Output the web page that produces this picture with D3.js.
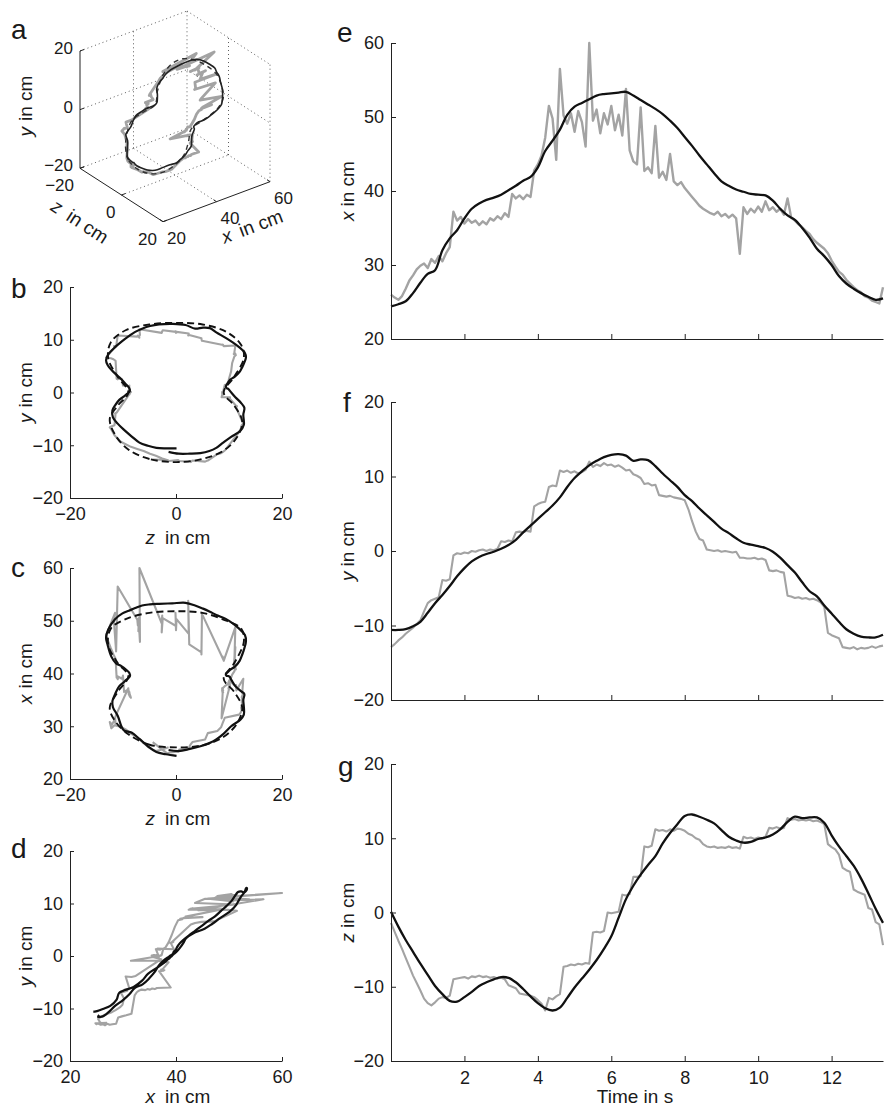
<!DOCTYPE html>
<html><head><meta charset="utf-8">
<script src="https://cdn.jsdelivr.net/npm/d3@7"></script>
<style>
body{margin:0;background:#fff}
svg{display:block}
text{font-family:"Liberation Sans",Arial,Helvetica,sans-serif;fill:#1a1a1a}
</style>
</head><body>
<svg id="fig" width="896" height="1109"></svg>
<script>
// ---------------- DATA ----------------
const T_END = 13.4;                       // duration of the recording, s
// estimated (black) trajectory, sampled every 0.2 s
const blackX = [24.4,24.7,25.1,26.2,27.6,28.8,29.3,32.0,33.6,34.7,36.3,37.6,38.3,38.8,39.1,39.5,40.1,40.7,41.4,41.9,43.2,45.4,46.8,48.3,50.3,51.4,51.9,52.4,52.9,53.1,53.2,53.3,53.4,52.9,52.3,51.7,51.1,50.4,49.5,48.5,47.3,46.1,44.8,43.6,42.4,41.3,40.7,40.2,39.9,39.6,39.5,39.4,38.7,37.6,36.7,36.1,35.0,33.7,32.2,31.2,30.0,28.5,27.5,26.8,26.2,25.7,25.3,25.5];
const blackY = [-10.6,-10.6,-10.5,-10.1,-9.5,-8.3,-7.0,-5.9,-4.7,-3.4,-2.3,-1.4,-0.8,-0.4,-0.1,0.3,0.8,1.5,2.5,3.4,4.3,5.2,6.1,7.2,8.6,9.8,10.7,11.5,12.1,12.6,12.9,13.0,12.8,12.1,12.3,12.2,11.4,10.4,9.5,8.6,7.5,6.7,5.7,4.8,3.9,3.0,2.4,1.7,1.1,0.85,0.65,0.4,-0.1,-0.9,-1.9,-2.9,-4.2,-5.4,-6.1,-7.3,-8.4,-9.5,-10.5,-11.1,-11.5,-11.6,-11.6,-11.25];
const blackZ = [0.1,-1.9,-3.7,-5.3,-6.9,-8.4,-9.9,-11.0,-11.9,-12.0,-11.4,-10.7,-9.9,-9.4,-9.0,-8.7,-8.8,-9.4,-10.3,-11.3,-12.2,-12.9,-13.2,-12.8,-11.5,-10.1,-8.9,-7.7,-6.4,-4.9,-3.2,-0.7,1.8,3.6,5.1,6.4,7.6,9.3,10.7,11.9,13.0,13.2,12.9,12.5,12.0,11.1,10.2,9.7,9.4,9.5,9.9,10.1,10.5,11.2,12.2,12.9,12.7,12.8,12.8,12.1,10.4,8.9,7.6,6.3,4.6,2.6,0.5,-1.4];
// measured (gray) trajectory, sampled every 0.1 s
const grayX = [26.0,25.6,25.3,25.8,26.8,27.9,28.6,29.4,29.9,30.2,
  29.6,30.8,30.3,31.2,30.5,31.6,32.4,37.2,36.0,36.5,
  35.6,36.2,35.7,36.0,35.4,35.9,35.5,36.3,36.0,36.6,
  36.2,37.0,36.5,39.6,39.0,39.4,38.9,39.5,39.2,42.8,
  43.6,44.8,47.2,51.5,49.8,44.2,56.5,50.2,49.1,50.5,
  48.0,50.8,49.3,46.0,60.0,49.5,51.0,47.8,50.5,49.0,
  51.5,48.2,50.3,47.5,53.8,45.5,44.0,43.6,51.3,42.7,
  43.2,42.4,48.8,41.8,42.6,41.5,45.0,41.3,40.8,41.2,
  40.4,39.8,39.2,38.6,38.0,37.6,37.3,37.0,36.8,37.2,
  36.6,36.9,36.4,36.8,36.3,31.5,37.8,36.9,37.6,37.1,
  37.9,37.2,38.6,37.4,37.8,37.2,37.6,36.8,39.0,36.4,
  36.0,35.5,35.1,34.6,34.2,33.5,33.0,32.6,32.2,31.6,
  30.6,29.8,29.1,28.7,28.0,27.5,27.0,26.6,26.3,25.8,
  25.6,25.2,25.0,24.8,27.0];
const grayY = [-12.9,-12.5,-12.0,-11.6,-11.1,-10.7,-10.3,-9.8,-9.3,-8.1,
  -7.0,-6.6,-6.4,-6.2,-3.9,-4.0,-3.8,-0.6,-0.3,-0.4,
  -0.2,-0.3,0.0,-0.1,0.1,0.2,0.0,0.2,0.1,0.3,
  1.3,1.2,1.4,1.3,2.5,2.6,2.5,2.7,2.6,6.0,
  6.3,6.5,6.6,8.6,8.8,8.7,10.8,10.6,10.8,10.5,
  10.7,10.4,10.6,10.9,12.0,11.3,11.6,11.4,11.8,11.5,
  11.6,11.3,11.5,11.2,10.8,10.9,10.3,10.1,9.8,9.0,
  9.1,8.8,8.9,7.5,7.4,7.3,7.4,7.2,7.1,7.0,
  6.8,5.6,4.0,2.6,1.6,1.4,0.2,0.1,0.0,0.1,
  -0.1,0.0,-0.1,-0.2,-0.1,-0.9,-0.9,-1.0,-1.0,-0.9,
  -1.1,-1.0,-1.2,-2.6,-2.7,-2.6,-2.8,-2.9,-6.0,-6.1,
  -6.3,-6.2,-6.4,-6.3,-6.5,-6.4,-6.6,-6.9,-7.5,-11.0,
  -11.3,-11.5,-11.7,-12.9,-13.0,-13.1,-12.9,-13.2,-13.0,-13.1,
  -13.0,-12.8,-13.0,-12.8,-12.7];
const grayZ = [-1.4,-2.6,-3.8,-4.9,-6.1,-7.3,-8.5,-9.5,-10.5,-11.6,
  -12.2,-12.5,-12.1,-11.6,-11.4,-11.5,-11.2,-9.0,-8.9,-8.8,
  -8.7,-8.9,-8.6,-8.7,-8.5,-8.7,-8.6,-8.8,-8.7,-8.9,
  -8.8,-9.0,-9.8,-10.0,-10.2,-10.9,-11.0,-11.1,-11.2,-11.4,
  -11.8,-12.3,-13.2,-11.5,-11.7,-11.3,-11.0,-7.3,-7.2,-7.0,
  -7.1,-6.9,-7.0,-6.8,-6.9,-2.7,-2.6,-2.7,-2.5,0.0,
  -0.1,0.0,0.1,2.4,2.3,2.5,4.8,4.8,4.9,8.9,
  8.8,9.0,11.2,11.0,11.1,10.9,11.2,11.0,11.3,11.2,
  11.0,10.6,10.4,10.0,9.8,9.2,8.9,8.8,8.9,8.7,
  8.8,8.7,8.9,8.7,8.8,8.6,10.2,10.0,10.1,9.9,
  10.1,10.0,10.2,11.4,11.3,11.5,11.3,11.4,12.7,12.5,
  12.6,12.4,12.5,12.4,12.5,12.3,12.4,12.2,11.9,9.2,
  8.8,8.5,7.8,6.0,5.7,5.5,3.1,2.8,2.6,2.4,
  0.6,0.4,-1.3,-1.6,-4.4];
// reference (dashed) closed path
const refX = [26.0,26.5,28.5,31.0,33.5,36.5,39.5,42.0,45.5,48.5,50.3,51.5,51.8,51.5,50.0,48.5,46.0,42.0,39.0,36.5,33.5,30.5,28.0,26.4];
const refY = [-13.2,-12.6,-10.8,-8.0,-5.0,-2.5,0.0,3.0,6.5,9.5,11.8,12.9,13.2,12.9,11.5,9.0,6.5,3.0,0.0,-2.5,-5.5,-8.5,-11.0,-12.6];
const refZ = [0,-5,-9,-11.5,-12.5,-11,-9,-11,-12.8,-12.3,-9.5,-5,0,5,9.5,12.3,12.8,11,9,11,12.5,11.5,9,5];
// tick labels
const timeTicks = [2,4,6,8,10,12];
const cmTicks = [-20,-10,0,10,20];
const xcmTicks = [20,30,40,50,60];
const sideTicks = [-20,0,20];
const xSideTicks = [20,40,60];

// ---------------- BUILD ----------------
function rec(xs,ys,zs){const n=xs.length;return xs.map((v,i)=>({t:i*T_END/(n-1),x:v,y:ys[i],z:zs[i]}));}
const black = rec(blackX,blackY,blackZ);
const gray = rec(grayX,grayY,grayZ);
const ref = refX.map((v,i)=>({x:v,y:refY[i],z:refZ[i]}));

const svg = d3.select('#fig');
const AX = '#222', GRAY = '#a3a3a3', BLK = '#111';
const FT = 18, FT3 = 17, FL = 19, FP = 28;
const minus = v => String(v).replace('-','\u2212');

function styleAxis(g){
  g.select('.domain').attr('stroke',AX).attr('stroke-width',1);
  g.selectAll('.tick line').attr('stroke',AX).attr('stroke-width',1);
  g.selectAll('.tick text').attr('font-size',FT).attr('font-family','"Liberation Sans",Arial,sans-serif').attr('fill','#1a1a1a');
}
function letter(ch,x,y){svg.append('text').attr('x',x).attr('y',y).attr('font-size',FP).text(ch);}
function axLabel(x,y,rot,v,gap){
  const t = svg.append('text').attr('transform',`translate(${x},${y}) rotate(${rot})`)
    .attr('text-anchor','middle').attr('dominant-baseline','central').attr('font-size',FL);
  t.append('tspan').attr('font-style','italic').text(v);
  t.append('tspan').attr('dx',gap).text('in cm');
}
function drawLines(g, xs, ys, fx, fy, opts){
  const gl = d3.line().x(d=>xs(fx(d))).y(d=>ys(fy(d)));
  const bl = d3.line().x(d=>xs(fx(d))).y(d=>ys(fy(d))).curve(d3.curveCatmullRom.alpha(0.5));
  g.append('path').datum(gray).attr('d',gl).attr('fill','none').attr('stroke',GRAY).attr('stroke-width',2.1).attr('stroke-linejoin','round');
  if(opts && opts.ref){
    const rl = d3.line().x(d=>xs(fx(d))).y(d=>ys(fy(d))).curve(d3.curveCatmullRomClosed.alpha(0.5));
    g.append('path').datum(ref).attr('d',rl).attr('fill','none').attr('stroke',BLK).attr('stroke-width',1.9).attr('stroke-dasharray','7,4');
  }
  g.append('path').datum(black).attr('d',bl).attr('fill','none').attr('stroke',BLK).attr('stroke-width',2.2).attr('stroke-linejoin','round');
}

// ---------- left 2D panels ----------
const L = {x0:70, x1:282};
function leftPanel(cfg){
  const xs = d3.scaleLinear().domain(cfg.xd).range([L.x0,L.x1]);
  const ys = d3.scaleLinear().domain(cfg.yd).range([cfg.yb,cfg.yt]);
  const g = svg.append('g');
  drawLines(g, xs, ys, cfg.fx, cfg.fy, {ref:cfg.ref});
  const ga = svg.append('g').attr('transform',`translate(0,${cfg.yb})`)
    .call(d3.axisBottom(xs).tickValues(cfg.xt).tickSizeInner(-4).tickSizeOuter(0).tickPadding(9));
  styleAxis(ga);
  const gy = svg.append('g').attr('transform',`translate(${L.x0},0)`)
    .call(d3.axisLeft(ys).tickValues(cfg.yt2).tickSizeInner(-4).tickSizeOuter(0).tickPadding(7));
  styleAxis(gy);
  axLabel((L.x0+L.x1)/2+2, cfg.yb+cfg.lo, 0, cfg.xl, 10);
  axLabel(25, (cfg.yb+cfg.yt)/2, -90, cfg.yl, 6);
  letter(cfg.letter, 11, cfg.ly);
}
leftPanel({xd:[-20,20],yd:[-20,20],yb:498,yt:287,xt:sideTicks,yt2:cmTicks,fx:d=>d.z,fy:d=>d.y,ref:true,xl:'z',yl:'y',letter:'b',ly:298,lo:39});
leftPanel({xd:[-20,20],yd:[20,60],yb:779,yt:568,xt:sideTicks,yt2:xcmTicks,fx:d=>d.z,fy:d=>d.x,ref:true,xl:'z',yl:'x',letter:'c',ly:577,lo:39});
leftPanel({xd:[20,60],yd:[-20,20],yb:1061,yt:851,xt:xSideTicks,yt2:cmTicks,fx:d=>d.x,fy:d=>d.y,ref:false,xl:'x',yl:'y',letter:'d',ly:858,lo:35});

// ---------- right time panels ----------
const tS = d3.scaleLinear().domain([0,T_END]).range([391,883]);
function rightPanel(cfg){
  const ys = d3.scaleLinear().domain(cfg.yd).range([cfg.yb,cfg.yt]);
  const g = svg.append('g');
  const gl = d3.line().x(d=>tS(d.t)).y(d=>ys(cfg.f(d)));
  const bl = d3.line().x(d=>tS(d.t)).y(d=>ys(cfg.f(d))).curve(d3.curveCatmullRom.alpha(0.5));
  g.append('path').datum(gray).attr('d',gl).attr('fill','none').attr('stroke',GRAY).attr('stroke-width',cfg.gw).attr('stroke-linejoin','round');
  g.append('path').datum(black).attr('d',bl).attr('fill','none').attr('stroke',BLK).attr('stroke-width',2.3);
  const ax = d3.axisBottom(tS).tickValues(timeTicks).tickSizeInner(-5).tickSizeOuter(0).tickPadding(10);
  if(!cfg.tl) ax.tickFormat('');
  const ga = svg.append('g').attr('transform',`translate(0,${cfg.yb})`).call(ax);
  styleAxis(ga);
  const gy = svg.append('g').attr('transform',`translate(${tS.range()[0]},0)`)
    .call(d3.axisLeft(ys).tickValues(cfg.ticks).tickSizeInner(-5).tickSizeOuter(0).tickPadding(7));
  styleAxis(gy);
  axLabel(347, (cfg.yb+cfg.yt)/2, -90, cfg.yl, 5);
  letter(cfg.letter, cfg.lx, cfg.ly);
  if(cfg.tl){
    svg.append('text').attr('x',(tS.range()[0]+tS.range()[1])/2-2).attr('y',cfg.yb+42)
      .attr('text-anchor','middle').attr('font-size',FL).text('Time in s');
  }
}
rightPanel({yd:[20,60],yb:339,yt:43,ticks:xcmTicks,f:d=>d.x,yl:'x',letter:'e',lx:337,ly:42,tl:false,gw:2.4});
rightPanel({yd:[-20,20],yb:700,yt:402,ticks:cmTicks,f:d=>d.y,yl:'y',letter:'f',lx:343,ly:412,tl:false,gw:2.1});
rightPanel({yd:[-20,20],yb:1061,yt:764,ticks:cmTicks,f:d=>d.z,yl:'z',letter:'g',lx:338,ly:776,tl:true,gw:2.1});

// ---------- 3D panel a ----------
const A3 = [80,168.3], ex = [107,-40], ez = [83,53.4], ey = [0,-117.3];
const s3x = d3.scaleLinear().domain([20,60]).range([0,1]);
const s3y = d3.scaleLinear().domain([-20,20]).range([0,1]);
const s3z = d3.scaleLinear().domain([-20,20]).range([0,1]);
function P(x,y,z){const a=s3x(x),b=s3y(y),c=s3z(z);
  return [A3[0]+a*ex[0]+c*ez[0]+b*ey[0], A3[1]+a*ex[1]+c*ez[1]+b*ey[1]];}
const g3 = svg.append('g');
const grid3 = [
  [[20,20,-20],[60,20,-20]],[[60,20,-20],[60,20,20]],
  [[20,-20,-20],[60,-20,-20]],[[60,-20,-20],[60,-20,20]],
  [[60,-20,-20],[60,20,-20]],[[60,-20,20],[60,20,20]],
  [[40,-20,-20],[40,20,-20]],[[60,-20,0],[60,20,0]],
  [[20,0,-20],[60,0,-20]],[[60,0,-20],[60,0,20]],
  [[40,-20,-20],[40,-20,20]],[[20,-20,0],[60,-20,0]]
];
grid3.forEach(s=>{const p=P(...s[0]),q=P(...s[1]);
  g3.append('line').attr('x1',p[0]).attr('y1',p[1]).attr('x2',q[0]).attr('y2',q[1])
    .attr('stroke','#333').attr('stroke-width',0.8).attr('stroke-dasharray','1,3');});
const axes3 = [[[20,-20,-20],[20,20,-20]],[[20,-20,-20],[20,-20,20]],[[20,-20,20],[60,-20,20]]];
axes3.forEach(s=>{const p=P(...s[0]),q=P(...s[1]);
  g3.append('line').attr('x1',p[0]).attr('y1',p[1]).attr('x2',q[0]).attr('y2',q[1]).attr('stroke',AX).attr('stroke-width',1);});
sideTicks.forEach(v=>{const p=P(20,v,-20);
  g3.append('line').attr('x1',p[0]).attr('y1',p[1]).attr('x2',p[0]+4).attr('y2',p[1]-1.5).attr('stroke',AX);
  g3.append('text').attr('x',p[0]-7).attr('y',p[1]-3).attr('dy','0.35em').attr('text-anchor','end').attr('font-size',FT3).text(minus(v));
  const q=P(20,-20,v);
  g3.append('line').attr('x1',q[0]).attr('y1',q[1]).attr('x2',q[0]+4).attr('y2',q[1]-1.5).attr('stroke',AX);
  g3.append('text').attr('x',q[0]-6).attr('y',q[1]+17).attr('dy','0.35em').attr('text-anchor','end').attr('font-size',FT3).text(minus(v));
});
xSideTicks.forEach(v=>{const p=P(v,-20,20);
  g3.append('line').attr('x1',p[0]).attr('y1',p[1]).attr('x2',p[0]-3).attr('y2',p[1]-2).attr('stroke',AX);
  g3.append('text').attr('x',p[0]+4).attr('y',p[1]+16).attr('dy','0.35em').attr('text-anchor','start').attr('font-size',FT3).text(v);
});
const l3 = d3.line().x(d=>P(d.x,d.y,d.z)[0]).y(d=>P(d.x,d.y,d.z)[1]);
g3.append('path').datum(gray).attr('d',l3).attr('fill','none').attr('stroke',GRAY).attr('stroke-width',2.8).attr('stroke-linejoin','round');
g3.append('path').datum(ref).attr('d',l3.curve(d3.curveCatmullRomClosed.alpha(0.5))).attr('fill','none').attr('stroke','#333').attr('stroke-width',1.4).attr('stroke-dasharray','5,4');
g3.append('path').datum(black).attr('d',l3.curve(d3.curveCatmullRom.alpha(0.5))).attr('fill','none').attr('stroke','#222').attr('stroke-width',1.6);
axLabel(25,106,-90,'y',6);
axLabel(80,221,33,'z',9);
axLabel(252,226,-20.5,'x',9);
letter('a',11,39);
</script>
</body></html>
